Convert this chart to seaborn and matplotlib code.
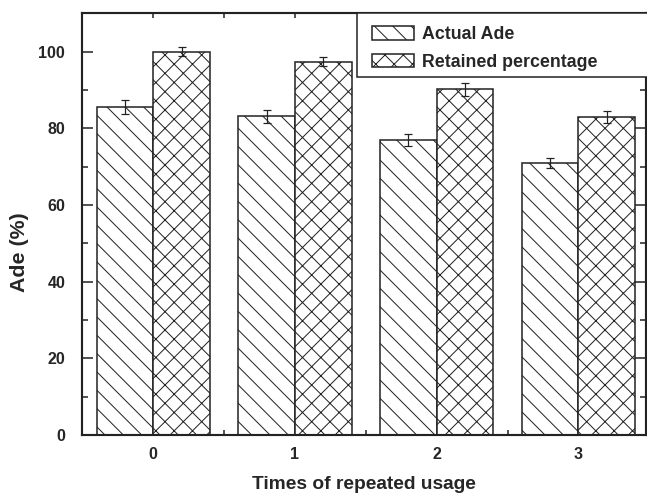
import matplotlib
matplotlib.use("Agg")
import matplotlib.pyplot as plt
import numpy as np
import pandas as pd
import seaborn as sns
from matplotlib.patches import Rectangle
from matplotlib.ticker import MultipleLocator, FixedLocator

# Adenine adsorption over repeated reuse cycles
usage_times = ["0", "1", "2", "3"]
series_names = ["Actual Ade", "Retained percentage"]
actual_ade = [85.5, 83.2, 77.0, 71.0]
actual_err = [1.8, 1.7, 1.5, 1.3]
retained_pct = [100.0, 97.4, 90.2, 83.0]
retained_err = [1.1, 1.2, 1.7, 1.6]
y_ticks = [0, 20, 40, 60, 80, 100]

sns.set_style("ticks")
plt.rcParams["font.family"] = ["Liberation Sans", "DejaVu Sans"]
plt.rcParams["font.weight"] = "bold"
plt.rcParams["hatch.linewidth"] = 0.65
plt.rcParams["hatch.color"] = "#222222"

df = pd.DataFrame({
    "times": usage_times * 2,
    "value": actual_ade + retained_pct,
    "err": actual_err + retained_err,
    "series": [series_names[0]] * len(usage_times) + [series_names[1]] * len(usage_times),
})

DPI = 110
ink = "#222222"
fig = plt.figure(figsize=(647 / DPI, 498 / DPI), dpi=DPI)
ax_h = 421.7
ax = fig.add_axes([82 / 647, 63 / 498, 564 / 647, ax_h / 498])

sns.barplot(data=df, x="times", y="value", hue="series", order=usage_times,
            hue_order=series_names, palette=["white", "white"], saturation=1,
            edgecolor=ink, linewidth=1.0, width=0.8, errorbar=None,
            legend=False, ax=ax)

bar_containers = list(ax.containers)
for container, hatch in zip(bar_containers, ["\\\\", "xx"]):
    for bar in container:
        bar.set_hatch(hatch)

# error bars on each bar
for container, name in zip(bar_containers, series_names):
    sub = df[df["series"] == name]
    xs = [b.get_x() + b.get_width() / 2 for b in container]
    ax.errorbar(xs, sub["value"].to_numpy(), yerr=sub["err"].to_numpy(),
                fmt="none", ecolor=ink, elinewidth=0.8, capsize=2.6,
                capthick=0.8, zorder=4)

ax.set_xlim(-0.503, 3.477)
ax.set_ylim(0, 110)
ax.yaxis.set_major_locator(FixedLocator(y_ticks))
ax.yaxis.set_minor_locator(MultipleLocator(10))
ax.xaxis.set_minor_locator(FixedLocator([0.5, 1.5, 2.5]))

for side in ["left", "right", "top", "bottom"]:
    ax.spines[side].set_linewidth(1.4)
    ax.spines[side].set_color(ink)
    ax.spines[side].set_visible(True)

ax.tick_params(axis="both", which="both", direction="in", top=True, right=True,
               color=ink, width=1.0)
ax.tick_params(axis="y", which="major", length=7, pad=11, labelsize=10.5)
ax.tick_params(axis="y", which="minor", length=3.7)
ax.tick_params(axis="x", which="both", length=3.5, pad=8, labelsize=10.5)
for lbl in ax.get_xticklabels() + ax.get_yticklabels():
    lbl.set_fontweight("bold")

ax.set_xlabel("Times of repeated usage", fontsize=12.5, fontweight="bold", labelpad=9)
ax.set_ylabel("Ade (%)", fontsize=14, fontweight="bold")
ax.yaxis.set_label_coords(-0.094, (435 - 252) / ax_h)

# legend box reaching past the right edge
x0 = (357 - 82) / 564
y0 = (435 - 76.7) / ax_h
ax.add_patch(Rectangle((x0, y0), 0.7, 1.0 - y0, transform=ax.transAxes,
                       facecolor="white", edgecolor=ink, linewidth=1.0,
                       clip_on=False, zorder=5))
handles = [c.patches[0] for c in bar_containers]
leg = ax.legend(handles, series_names, loc="upper left",
                bbox_to_anchor=(x0, 1.0 + 2 / ax_h), borderaxespad=0,
                frameon=False, handlelength=2.4, handleheight=0.8,
                handletextpad=0.45, labelspacing=0.6, borderpad=0.83,
                prop={"weight": "bold", "size": 11.6})
leg.set_zorder(6)

fig.savefig("out.png", dpi=DPI)
